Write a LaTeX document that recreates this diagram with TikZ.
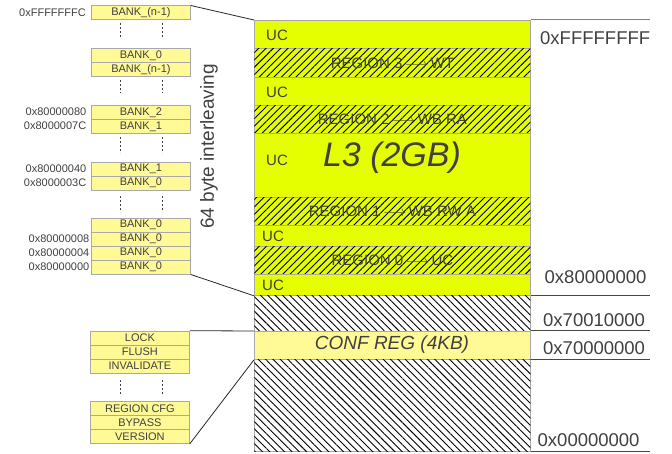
\documentclass[tikz,border=0pt]{standalone}
\usepackage{fontspec}
\setmainfont{Liberation Sans}
\usetikzlibrary{patterns.meta}
\definecolor{lime}{RGB}{229,255,0}
\definecolor{paley}{RGB}{255,250,150}
\definecolor{edge}{RGB}{168,168,168}
\definecolor{ink}{RGB}{64,64,64}
\definecolor{rule}{RGB}{70,70,70}
\newcommand{\regarrow}{\,$\longrightarrow$\,}
\begin{document}
\begin{tikzpicture}[x=1pt,y=-1pt,
  bankbox/.style={draw=edge, line width=0.8pt, fill=paley, minimum width=99pt, minimum height=14pt,
    inner sep=0pt, anchor=north west, text=ink, font=\fontsize{11}{12}\selectfont},
  addr/.style={anchor=east, text=ink, inner sep=0pt, font=\fontsize{11}{12}\selectfont},
  band/.style={draw=edge, line width=0.8pt, fill=lime, minimum width=276pt, inner sep=0pt,
    anchor=north west, text=ink, font=\fontsize{15}{16}\selectfont},
  hatchband/.style={band, postaction={pattern={Lines[angle=45,distance=5.2pt,line width=0.9pt]}}},
  voidband/.style={band, fill=white, postaction={pattern={Lines[angle=-45,distance=5.2pt,line width=0.9pt]}}},
  uclabel/.style={anchor=west, text=ink, inner sep=0pt, font=\fontsize{15}{16}\selectfont},
  bigaddr/.style={anchor=west, text=ink, inner sep=0pt, font=\fontsize{18.5}{20}\selectfont},
  conn/.style={draw=black!85, line width=0.8pt},
  addrline/.style={draw=rule, line width=1pt},
  dotline/.style={draw=ink, line width=1pt, dash pattern=on 2pt off 2pt}
]
\useasboundingbox (0,0) rectangle (672,454);

% ---- main column ----
\node[band, minimum height=28pt] (ucA) at (254,20) {};
\node[hatchband, minimum height=29pt] (r3) at (254,48) {REGION 3\regarrow WT};
\node[band, minimum height=28pt] (ucB) at (254,77) {};
\node[hatchband, minimum height=28pt] (r2) at (254,105) {REGION 2\regarrow WB RA};
\node[band, minimum height=64pt] (l3) at (254,133) {};
\node[hatchband, minimum height=28pt] (r1) at (254,197) {REGION 1\regarrow WB RW A};
\node[band, minimum height=21pt] (ucC) at (254,225) {};
\node[hatchband, minimum height=28pt] (r0) at (254,246) {REGION 0\regarrow UC};
\node[band, minimum height=21pt] (ucD) at (254,274) {};
\node[voidband, minimum height=36pt] (gap1) at (254,295) {};
\node[band, fill=paley, minimum height=28pt] (conf) at (254,331) {};
\node[voidband, minimum height=92pt] (gap0) at (254,359) {};

\node[uclabel] (tA) at (266,35) {UC};
\node[uclabel] (tB) at (266,92.5) {UC};
\node[uclabel] (tL) at (266,160) {UC};
\node[uclabel] (tC) at (262,236.5) {UC};
\node[uclabel] (tD) at (262,285.5) {UC};
\node[text=ink, inner sep=0pt, font=\fontsize{34}{36}\selectfont\itshape] (l3t) at (392,158) {L3 (2GB)};
\node[text=ink, inner sep=0pt, font=\fontsize{19}{20}\selectfont\itshape] (conft) at (392,345) {CONF REG (4KB)};

% ---- address rules on the right ----
\coordinate (rend) at (650,0);
\draw[addrline, draw=gray] (ucA.north east) -- (ucA.north east -| rend);
\draw[addrline] (ucD.south east) -- (ucD.south east -| rend);
\draw[addrline] (conf.north east) -- (conf.north east -| rend);
\draw[addrline] (conf.south east) -- (conf.south east -| rend);
\draw[addrline] (gap0.south east) -- (gap0.south east -| rend);
\node[bigaddr] (aF) at (540,38) {0xFFFFFFFF};
\node[bigaddr] (a8) at (544.5,277.5) {0x80000000};
\node[bigaddr] (a71) at (543,320.5) {0x70010000};
\node[bigaddr] (a70) at (543,348) {0x70000000};
\node[bigaddr] (a0) at (537.5,440) {0x00000000};

% ---- bank boxes ----
\node[bankbox] (b1) at (91,5.5) {BANK\_(n-1)};
\node[bankbox] (b2) at (91,48.3) {BANK\_0};
\node[bankbox] (b3) at (91,62.3) {BANK\_(n-1)};
\node[bankbox] (b4) at (91,105) {BANK\_2};
\node[bankbox] (b5) at (91,119) {BANK\_1};
\node[bankbox] (b6) at (91,161.7) {BANK\_1};
\node[bankbox] (b7) at (91,175.7) {BANK\_0};
\node[bankbox] (b8) at (91,217.7) {BANK\_0};
\node[bankbox] (b9) at (91,231.7) {BANK\_0};
\node[bankbox] (b10) at (91,245.7) {BANK\_0};
\node[bankbox] (b11) at (91,259.7) {BANK\_0};

\node[addr] (l1) at (86,12.5) {0xFFFFFFFC};
\node[addr] (l4) at (86.5,112) {0x80000080};
\node[addr] (l5) at (86.5,126) {0x8000007C};
\node[addr] (l6) at (86.5,168.7) {0x80000040};
\node[addr] (l7) at (86.5,182.7) {0x8000003C};
\node[addr] (l9) at (89.5,238.7) {0x80000008};
\node[addr] (l10) at (89.5,252.7) {0x80000004};
\node[addr] (l11) at (89.5,266.7) {0x80000000};

\foreach \ya/\yb in {23/37, 80/93, 137/153, 196/212, 380/394}{
  \draw[dotline] (120,\ya) -- (120,\yb);
  \draw[dotline] (162,\ya) -- (162,\yb);
}

% ---- config register boxes ----
\node[bankbox] (lock) at (90,330.7) {LOCK};
\node[bankbox] (flush) at (90,344.7) {FLUSH};
\node[bankbox] (inval) at (90,358.7) {INVALIDATE};
\node[bankbox] (rcfg) at (90,401) {REGION CFG};
\node[bankbox] (bypass) at (90,415) {BYPASS};
\node[bankbox] (version) at (90,429) {VERSION};

\node[rotate=90, text=ink, inner sep=0pt, font=\fontsize{19}{20}\selectfont] (ilv) at (209,146.5) {64 byte interleaving};

% ---- connectors ----
\draw[conn] (b1.north east) -- (ucA.north west);
\draw[conn] (b11.south east) -- (ucD.south west);
\draw[conn] (lock.north east) -- (conf.north west);
\draw[conn] (version.south east) -- (conf.south west);
\end{tikzpicture}
\end{document}
